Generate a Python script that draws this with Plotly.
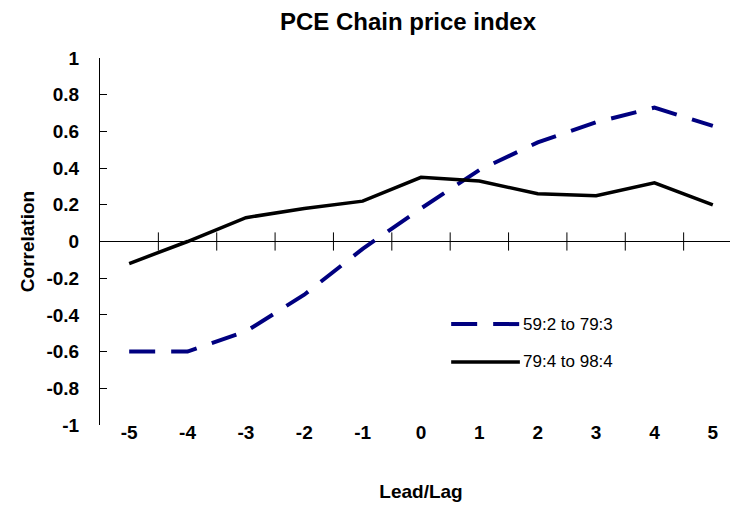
import numpy as np
import plotly.graph_objects as go

# lead/lag categories and correlations
lags = [-5, -4, -3, -2, -1, 0, 1, 2, 3, 4, 5]
early = [-0.60, -0.60, -0.49, -0.29, -0.04, 0.18, 0.39, 0.54, 0.65, 0.73, 0.63]   # 59:2 to 79:3
late = [-0.12, 0.00, 0.13, 0.18, 0.22, 0.35, 0.33, 0.26, 0.25, 0.32, 0.20]       # 79:4 to 98:4
names = ["59:2 to 79:3", "79:4 to 98:4"]
yticks = [-1, -0.8, -0.6, -0.4, -0.2, 0, 0.2, 0.4, 0.6, 0.8, 1]

FONT = "Liberation Sans, Arial, sans-serif"
NAVY = "#000080"

fig = go.Figure()

# category boundary ticks crossing the zero line (excel style)
bounds = [l + 0.5 for l in lags]
fig.add_trace(go.Scatter(x=bounds, y=[0] * len(bounds), mode="markers",
                         marker=dict(symbol="line-ns", size=13, line=dict(color="black", width=1)),
                         hoverinfo="skip", showlegend=False, cliponaxis=False))

fig.add_trace(go.Scatter(x=lags, y=early, mode="lines", name=names[0],
                         line=dict(color=NAVY, width=4, dash="26px,16px")))
fig.add_trace(go.Scatter(x=lags, y=late, mode="lines", name=names[1],
                         line=dict(color="black", width=3.5)))

# legend drawn by hand so the samples are as long as the original
legend_y = [0.275, 0.172]
styles = [dict(color=NAVY, width=4, dash="26px,16px"), dict(color="black", width=3.5)]
for nm, yy, st in zip(names, legend_y, styles):
    fig.add_shape(type="line", xref="paper", yref="paper", x0=0.547, x1=0.654,
                  y0=yy, y1=yy, line=st)
    fig.add_annotation(x=0.656, y=yy, xref="paper", yref="paper", text=nm,
                       showarrow=False, xanchor="left", yanchor="middle",
                       font=dict(family=FONT, size=17, color="black"))

fig.update_layout(
    width=738, height=507,
    margin=dict(l=92, r=4, t=50, b=90),
    paper_bgcolor="white", plot_bgcolor="white",
    showlegend=False,
    title=dict(text="<b>PCE Chain price index</b>", x=0.542, xanchor="center",
               yref="container", y=0.99, yanchor="top",
               font=dict(family=FONT, size=24, color="black")),
    font=dict(family=FONT, color="black"),
)
fig.update_xaxes(range=[-5.5, 5.5], tickvals=lags, ticktext=["<b>%d</b>" % l for l in lags],
                 showgrid=False, zeroline=False, showline=False, ticks="",
                 ticklabelstandoff=-6,
                 tickfont=dict(family=FONT, size=19, color="black"),
                 title=dict(text="<b>Lead/Lag</b>", font=dict(family=FONT, size=19, color="black"),
                            standoff=42))
fig.update_yaxes(range=[-1, 1], tickvals=yticks,
                 ticktext=["<b>%g</b>" % v for v in yticks],
                 showgrid=False, zeroline=True, zerolinecolor="black", zerolinewidth=1,
                 showline=True, linecolor="black", linewidth=1,
                 ticks="inside", ticklen=7, tickcolor="black",
                 ticklabelstandoff=16,
                 tickfont=dict(family=FONT, size=19, color="black"),
                 title=dict(text="<b>Correlation</b>", font=dict(family=FONT, size=19, color="black"),
                            standoff=6))

fig.write_html("out.html")
